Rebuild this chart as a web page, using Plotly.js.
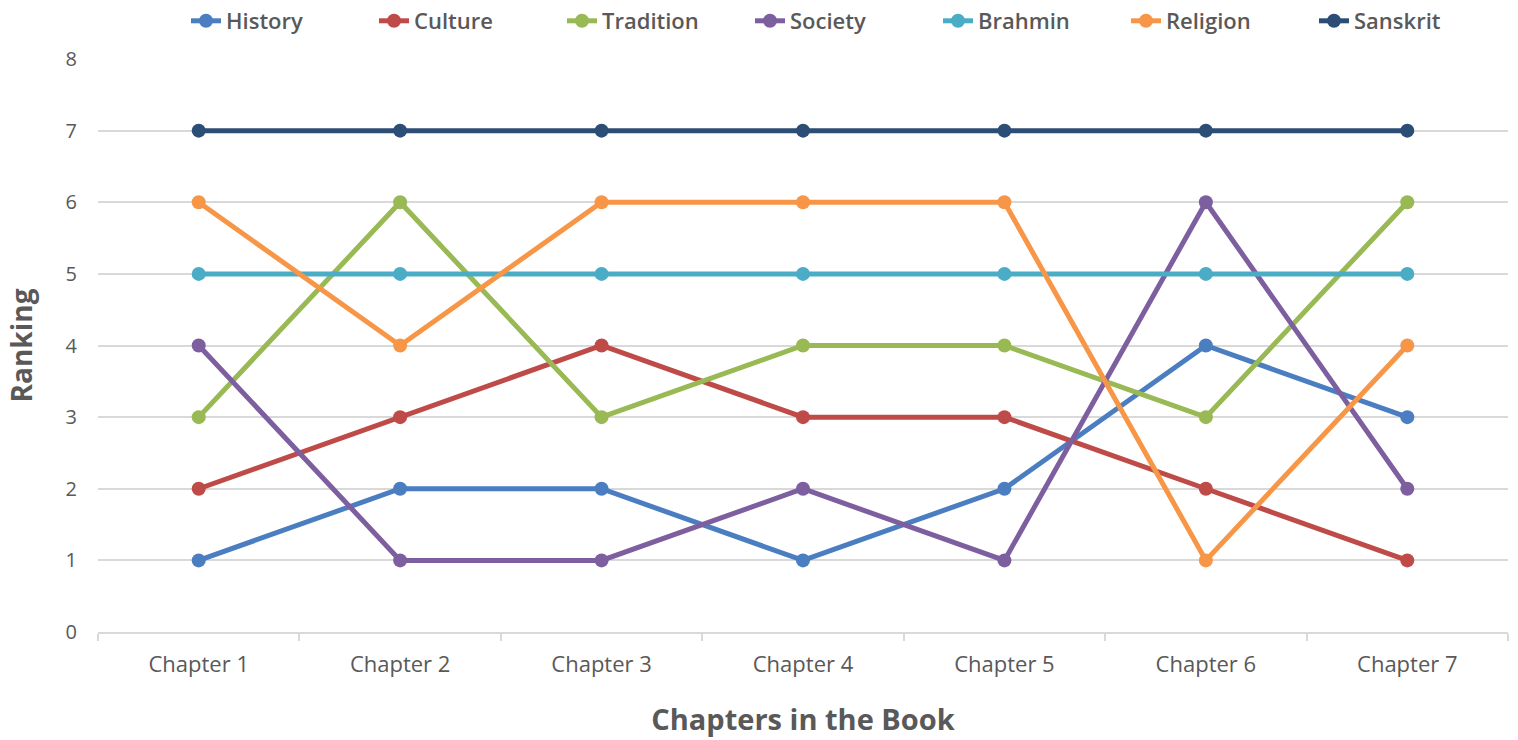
<!DOCTYPE html>
<html><head><meta charset="utf-8">
<script src="https://cdn.plot.ly/plotly-3.0.1.min.js"></script>
<style>html,body{margin:0;padding:0;background:#fff}#chart{width:1518px;height:740px}</style>
</head><body><div id="chart"></div>
<script>
const chapters = ["Chapter 1","Chapter 2","Chapter 3","Chapter 4","Chapter 5","Chapter 6","Chapter 7"];
const seriesNames = ["History","Culture","Tradition","Society","Brahmin","Religion","Sanskrit"];
const history   = [1,2,2,1,2,4,3];
const culture   = [2,3,4,3,3,2,1];
const tradition = [3,6,3,4,4,3,6];
const society   = [4,1,1,2,1,6,2];
const brahmin   = [5,5,5,5,5,5,5];
const religion  = [6,4,6,6,6,1,4];
const sanskrit  = [7,7,7,7,7,7,7];
const colors = ["#4A7EC1","#BE4B48","#98B954","#7D5FA0","#4AACC5","#F79646","#2C4D75"];
const values = [history,culture,tradition,society,brahmin,religion,sanskrit];

const traces = seriesNames.map((n,i)=>({
  type:"scatter", mode:"lines+markers", name:n, x:chapters, y:values[i],
  line:{color:colors[i], width:5}, marker:{color:colors[i], size:14}
}));

const layout = {
  width:1518, height:740,
  margin:{l:98, r:10, t:59, b:108},
  paper_bgcolor:"#fff", plot_bgcolor:"#fff",
  font:{family:"Open Sans, sans-serif", color:"#595959"},
  showlegend:true,
  legend:{orientation:"h", x:186/1518, xanchor:"left", xref:"container", yref:"container", y:1.0, yanchor:"top",
    font:{size:22, color:"#595959", weight:600}, entrywidth:143, entrywidthmode:"pixels", tracegroupgap:0},
  xaxis:{type:"category", range:[-0.5,6.5], tickson:"boundaries", ticks:"outside",
    ticklen:7, tickcolor:"#d9d9d9", tickwidth:1.5, showline:true, linecolor:"#d9d9d9", linewidth:2,
    showgrid:false, tickfont:{size:22, color:"#595959"}, ticklabelstandoff:12,
    title:{text:"<b>Chapters in the Book</b>", font:{size:29, color:"#595959"}, standoff:32}},
  yaxis:{range:[0,8], dtick:1, showgrid:true, gridcolor:"#d9d9d9", gridwidth:2, zeroline:false,
    tickfont:{size:20, color:"#595959"}, ticklabelstandoff:20,
    title:{text:"<b>Ranking</b>", font:{size:28, color:"#595959"}, standoff:24}}
};
Plotly.newPlot("chart", traces, layout, {displayModeBar:false});
</script></body></html>
